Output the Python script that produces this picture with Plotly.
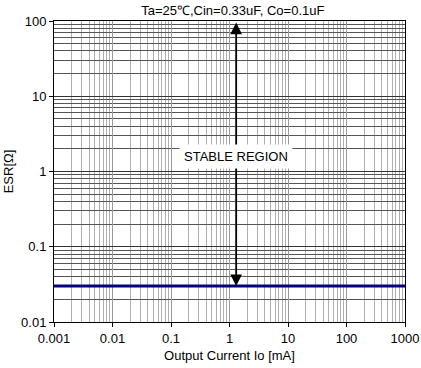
import math
import plotly.graph_objects as go

x_range = [0.001, 1000]
y_range = [0.01, 100]
esr_limit_x = [0.001, 1000]
esr_limit_y = [0.03, 0.03]
arrow_x = 1.3
arrow_y = [0.03, 100]
x_ticks = [0.001, 0.01, 0.1, 1, 10, 100, 1000]
x_ticklabels = ["0.001", "0.01", "0.1", "1", "10", "100", "1000"]
y_ticks = [0.01, 0.1, 1, 10, 100]
y_ticklabels = ["0.01", "0.1", "1", "10", "100"]

fig = go.Figure()
fig.add_trace(go.Scatter(x=esr_limit_x, y=esr_limit_y, mode="lines",
                         line=dict(color="#000080", width=3), showlegend=False,
                         hoverinfo="skip", cliponaxis=False))

fig.add_annotation(x=math.log10(arrow_x), y=math.log10(arrow_y[0]),
                   ax=math.log10(arrow_x), ay=math.log10(arrow_y[1]),
                   xref="x", yref="y", axref="x", ayref="y",
                   text="", showarrow=True, arrowhead=2, arrowside="end+start",
                   arrowsize=1.3, arrowwidth=1.8, arrowcolor="black")
fig.add_annotation(x=math.log10(arrow_x), y=math.log10(1.6), xref="x", yref="y",
                   text="STABLE REGION", showarrow=False, bgcolor="white",
                   font=dict(family="Liberation Sans, Arial", size=13, color="black"),
                   borderpad=4)

font = dict(family="Liberation Sans, Arial", size=13, color="black")
fig.update_layout(
    width=421, height=368,
    margin=dict(l=54, r=16, t=21, b=46, autoexpand=False),
    paper_bgcolor="white", plot_bgcolor="white",
    font=font,
    title=dict(text="Ta=25\u2103,Cin=0.33uF, Co=0.1uF", x=0.553, xanchor="center",
               y=0.972, yanchor="middle", font=dict(family="Liberation Sans, Arial", size=13, color="black")),
)
fig.update_xaxes(type="log", range=[math.log10(x_range[0]), math.log10(x_range[1])],
                 tickvals=x_ticks, ticktext=x_ticklabels, automargin=False,
                 showline=True, linecolor="black", linewidth=1, mirror=True,
                 ticks="outside", ticklen=4, tickcolor="black",
                 showgrid=True, gridcolor="#999999", gridwidth=1,
                 minor=dict(dtick="D1", showgrid=True, gridcolor="#b0b0b0", gridwidth=1, ticks=""),
                 title=dict(text="Output Current Io [mA]", standoff=6, font=font),
                 zeroline=False)
fig.update_yaxes(type="log", range=[math.log10(y_range[0]), math.log10(y_range[1])],
                 tickvals=y_ticks, ticktext=y_ticklabels, automargin=False,
                 showline=True, linecolor="black", linewidth=1, mirror=True,
                 ticks="outside", ticklen=4, tickcolor="black",
                 showgrid=True, gridcolor="#333333", gridwidth=1,
                 minor=dict(dtick="D1", showgrid=True, gridcolor="#555555", gridwidth=1, ticks=""),
                 title=dict(text="ESR[\u03a9]", standoff=4, font=font),
                 zeroline=False)

fig.write_html("out.html", config={"displayModeBar": False},
               post_script="document.body.style.margin='0px';")
